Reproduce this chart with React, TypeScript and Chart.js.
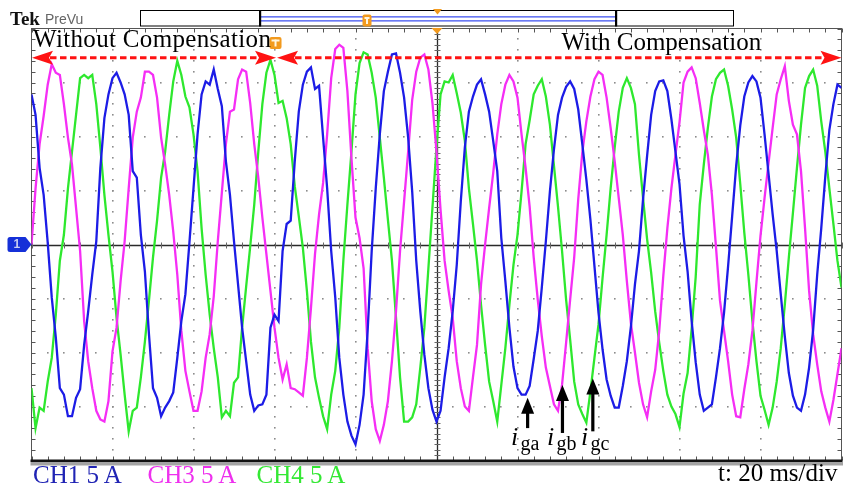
import React, { useEffect, useRef } from "react";
import { Chart, registerables } from "chart.js";

Chart.register(...registerables);

// Sample times (ms) across the 10 div x 20 ms/div screen
const timeMs = [
  0, 1, 2, 3, 4, 5, 6, 7, 8, 9, 10, 11, 12, 13, 14, 15, 16, 17, 18, 19,
  20, 21, 22, 23, 24, 25, 26, 27, 28, 29, 30, 31, 32, 33, 34, 35, 36, 37, 38, 39,
  40, 41, 42, 43, 44, 45, 46, 47, 48, 49, 50, 51, 52, 53, 54, 55, 56, 57, 58, 59,
  60, 61, 62, 63, 64, 65, 66, 67, 68, 69, 70, 71, 72, 73, 74, 75, 76, 77, 78, 79,
  80, 81, 82, 83, 84, 85, 86, 87, 88, 89, 90, 91, 92, 93, 94, 95, 96, 97, 98, 99,
  100, 101, 102, 103, 104, 105, 106, 107, 108, 109, 110, 111, 112, 113, 114, 115, 116, 117, 118, 119,
  120, 121, 122, 123, 124, 125, 126, 127, 128, 129, 130, 131, 132, 133, 134, 135, 136, 137, 138, 139,
  140, 141, 142, 143, 144, 145, 146, 147, 148, 149, 150, 151, 152, 153, 154, 155, 156, 157, 158, 159,
  160, 161, 162, 163, 164, 165, 166, 167, 168, 169, 170, 171, 172, 173, 174, 175, 176, 177, 178, 179,
  180, 181, 182, 183, 184, 185, 186, 187, 188, 189, 190, 191, 192, 193, 194, 195, 196, 197, 198, 199,
  200,
];

// CH1 (i_ga), amps
const ch1Amps = [
  13.9, 12.0, 7.1, 4.6, 0.2, -4.9, -8.6, -13.3, -13.9, -15.9,
  -15.9, -14.2, -13.4, -9.3, -6.2, -2.8, 0.3, 7.1, 11.7, 13.9,
  15.4, 15.9, 15.0, 13.9, 12.0, 6.8, 6.2, 0.9, -2.5, -8.3,
  -13.3, -14.2, -15.9, -15.1, -14.5, -13.7, -10.5, -7.1, -4.6, 0.2,
  5.2, 10.2, 13.9, 15.1, 14.8, 16.2, 14.4, 12.8, 7.7, 4.6,
  0.3, -3.7, -7.7, -10.8, -13.9, -15.4, -14.9, -14.8, -13.9, -7.7,
  -6.5, -7.1, -0.6, 1.9, 2.2, 7.7, 12.3, 14.8, 16.0, 16.4,
  14.4, 14.7, 9.9, 5.2, -0.6, -4.9, -10.5, -13.9, -16.4, -17.7,
  -18.5, -16.7, -13.9, -8.0, -0.6, 5.2, 10.2, 14.2, 16.0, 17.6,
  17.7, 15.9, 13.6, 9.9, 4.9, -1.5, -6.2, -10.2, -13.3, -15.3,
  -16.4, -15.4, -12.3, -9.6, -6.2, -1.9, 4.0, 9.0, 12.3, 13.7,
  14.8, 15.3, 13.9, 12.3, 9.6, 6.8, 0.6, -3.4, -7.7, -11.3,
  -13.3, -13.9, -13.9, -13.1, -10.6, -8.0, -4.0, 0.3, 4.9, 8.8,
  12.0, 13.6, 14.6, 15.1, 14.4, 12.5, 9.3, 6.0, 2.3, -2.0,
  -6.3, -9.7, -12.5, -14.0, -15.1, -15.1, -13.1, -10.8, -7.6, -3.7,
  -0.6, 4.2, 8.2, 12.0, 14.2, 15.1, 15.2, 14.2, 11.6, 8.6,
  5.6, 0.8, -2.5, -7.1, -10.9, -13.9, -15.4, -15.1, -14.8, -12.3,
  -9.6, -6.3, -2.0, 2.6, 7.3, 11.0, 13.7, 15.0, 15.6, 15.1,
  13.6, 10.2, 6.5, 2.8, -0.6, -4.6, -8.5, -11.9, -14.0, -15.1,
  -15.4, -13.9, -11.4, -7.9, -2.8, 1.5, 6.3, 10.6, 13.0, 14.8,
  14.5,
];

// CH3 (i_gb), amps
const ch3Amps = [
  0.0, 5.2, 9.3, 11.9, 14.8, 16.7, 15.9, 15.7, 13.0, 9.9,
  7.4, 3.4, -0.6, -7.1, -10.8, -13.3, -15.4, -16.2, -16.4, -14.5,
  -9.9, -7.7, -3.4, 0.3, 5.2, 9.9, 12.3, 13.6, 16.0, 16.0,
  15.7, 13.6, 9.9, 7.4, 4.6, 1.2, -2.8, -8.0, -11.7, -13.6,
  -15.4, -15.4, -13.6, -10.5, -8.3, -4.8, 0.3, 4.8, 9.3, 12.3,
  12.5, 15.3, 16.2, 16.0, 13.1, 9.3, 6.2, 2.5, -0.9, -4.3,
  -7.7, -10.5, -12.5, -11.1, -13.3, -13.4, -13.7, -14.0, -10.5, -5.9,
  -0.9, 2.8, 5.7, 10.2, 15.4, 18.1, 18.5, 18.2, 14.2, 8.0,
  2.5, 0.6, -2.2, -9.6, -14.5, -17.1, -18.2, -16.7, -14.5, -10.8,
  -6.2, -0.6, 4.0, 8.6, 13.4, 16.0, 17.3, 17.6, 16.2, 13.1,
  8.6, 3.2, -1.5, -4.3, -6.8, -10.8, -13.3, -15.0, -15.4, -12.3,
  -9.3, -3.7, 0.0, 3.4, 6.6, 10.2, 13.0, 14.8, 15.7, 15.1,
  13.6, 10.2, 7.1, 3.5, -1.2, -5.1, -8.5, -11.4, -13.1, -14.8,
  -15.4, -13.0, -9.1, -5.1, -1.2, 4.2, 8.5, 11.4, 13.7, 15.3,
  16.0, 15.7, 13.6, 10.8, 7.7, 4.3, 0.9, -3.4, -7.3, -10.0,
  -12.8, -14.8, -16.0, -13.6, -11.6, -8.0, -2.9, 1.5, 5.2, 8.3,
  11.3, 15.0, 16.0, 16.4, 15.4, 13.1, 10.6, 8.3, 4.6, -0.2,
  -5.2, -8.0, -10.8, -13.9, -15.9, -16.0, -13.4, -11.1, -8.0, -3.5,
  0.8, 4.3, 7.6, 10.8, 13.9, 15.3, 16.5, 13.3, 11.1, 10.2,
  6.8, 1.5, -4.3, -8.3, -11.1, -13.6, -15.1, -16.4, -14.4, -12.0,
  -9.6,
];

// CH4 (i_gc), amps
const ch4Amps = [
  -13.3, -17.0, -15.1, -15.4, -12.7, -10.5, -6.5, -1.5, 0.9, 5.2,
  8.6, 12.0, 15.4, 15.7, 15.4, 15.7, 13.0, 9.0, 4.6, 0.9,
  -2.5, -6.8, -10.2, -13.9, -17.3, -15.4, -15.1, -12.3, -9.0, -5.2,
  -1.2, 2.2, 6.2, 8.6, 12.0, 15.1, 17.0, 15.7, 13.7, 12.7,
  10.2, 6.8, 1.5, -2.8, -6.5, -9.6, -12.3, -16.0, -15.4, -15.9,
  -12.8, -12.3, -7.7, -3.9, -0.2, 3.7, 8.6, 13.0, 15.9, 17.1,
  15.7, 13.1, 13.3, 11.7, 9.3, 5.4, 2.6, -0.3, -4.3, -9.0,
  -12.3, -14.2, -15.9, -17.1, -13.9, -11.7, -7.7, -1.5, 3.7, 8.6,
  13.9, 16.8, 17.8, 17.6, 15.9, 13.6, 9.9, 6.2, 2.3, -1.5,
  -6.8, -12.3, -16.4, -16.4, -16.0, -14.8, -11.4, -7.7, -2.2, 3.4,
  9.0, 13.9, 15.1, 15.0, 15.7, 14.0, 12.2, 9.6, 5.2, 1.9,
  -1.5, -5.6, -9.3, -12.7, -14.5, -16.4, -13.0, -9.6, -5.6, -1.9,
  0.9, 4.9, 9.3, 11.5, 13.9, 14.7, 15.3, 13.7, 11.1, 7.3,
  3.5, -0.6, -5.1, -8.8, -12.7, -14.8, -15.7, -16.5, -13.6, -10.5,
  -7.4, -3.1, 0.9, 5.2, 9.0, 12.3, 14.5, 15.4, 14.5, 13.0,
  8.3, 4.3, 0.5, -2.6, -6.2, -9.1, -11.7, -13.9, -15.0, -15.7,
  -16.9, -13.8, -11.9, -7.8, -3.0, 3.7, 7.4, 10.8, 13.7, 15.3,
  15.9, 16.2, 14.7, 12.5, 9.9, 5.6, 1.1, -2.8, -7.1, -10.8,
  -14.0, -15.3, -16.7, -15.1, -12.7, -9.6, -5.6, -1.2, 2.9, 7.1,
  11.1, 14.5, 15.6, 16.2, 14.7, 11.4, 8.6, 5.2, 1.9, -1.5,
  -4.0,
];

const channelLabels = ["CH1 5 A", "CH3 5 A", "CH4 5 A"];
const channelColors = ["#1c1ce6", "#f52ef5", "#2ee82e"];
const channelTextColors = ["#2024b4", "#ee30ee", "#34e834"];

// Annotation values (data units)
const switchTimeMs = 60.5;
const arrowLevelAmps = 17.3;
const pointerTimesMs = [122.5, 131.1, 138.6];
const pointerTipAmps = [-14.2, -13.0, -12.4];
const pointerBaseAmps = [-17.0, -17.45, -17.3];
const pointerLabels = ["ga", "gb", "gc"];

const X_MIN = 0, X_MAX = 200, X_DIV = 20;
const Y_MIN = -20, Y_MAX = 20, Y_DIV = 5;

const ORANGE = "#f29a1e";

function redDoubleArrow(ctx: any, x1: number, x2: number, y: number) {
  ctx.strokeStyle = "#ff1212";
  ctx.fillStyle = "#ff1212";
  ctx.lineWidth = 3;
  ctx.setLineDash([6.5, 3.5]);
  ctx.beginPath();
  ctx.moveTo(x1 + 18, y);
  ctx.lineTo(x2 - 18, y);
  ctx.stroke();
  ctx.setLineDash([]);
  ctx.beginPath();
  ctx.moveTo(x1, y);
  ctx.lineTo(x1 + 21, y - 7);
  ctx.lineTo(x1 + 17, y);
  ctx.lineTo(x1 + 21, y + 7);
  ctx.closePath();
  ctx.fill();
  ctx.beginPath();
  ctx.moveTo(x2, y);
  ctx.lineTo(x2 - 21, y - 7);
  ctx.lineTo(x2 - 17, y);
  ctx.lineTo(x2 - 21, y + 7);
  ctx.closePath();
  ctx.fill();
}

function tMarker(ctx: any, cx: number, cy: number, w: number, h: number) {
  ctx.fillStyle = ORANGE;
  ctx.beginPath();
  ctx.roundRect(cx - w / 2, cy - h / 2, w, h, 2);
  ctx.fill();
  ctx.fillStyle = "#fff6e0";
  ctx.fillRect(cx - w / 2 + 2, cy - h / 2 + 2.5, w - 4, 2);
  ctx.fillRect(cx - 1, cy - h / 2 + 2.5, 2, h - 5);
}

const scopePlugin = {
  id: "scopeGraticule",
  beforeDatasetsDraw(chart: any) {
    const { ctx, chartArea: a, scales } = chart;
    const xs = scales.x, ys = scales.y;
    const minorX = X_DIV / 5, minorY = Y_DIV / 5;
    ctx.save();
    ctx.fillStyle = "#8c8c8c";
    for (let t = X_MIN + X_DIV; t < X_MAX; t += X_DIV) {
      if (t === 100) continue;
      const px = Math.round(xs.getPixelForValue(t));
      for (let v = Y_MIN + minorY; v < Y_MAX; v += minorY) {
        const py = Math.round(ys.getPixelForValue(v));
        ctx.fillRect(px - 1, py - 1, 1.6, 1.6);
      }
    }
    for (let v = Y_MIN + Y_DIV; v < Y_MAX; v += Y_DIV) {
      if (v === 0) continue;
      const py = Math.round(ys.getPixelForValue(v));
      for (let t = X_MIN + minorX; t < X_MAX; t += minorX) {
        const px = Math.round(xs.getPixelForValue(t));
        ctx.fillRect(px - 1, py - 1, 1.6, 1.6);
      }
    }
    // frame
    ctx.strokeStyle = "#555";
    ctx.lineWidth = 1;
    ctx.strokeRect(a.left, a.top, a.right - a.left, a.bottom - a.top);
    ctx.beginPath();
    for (let t = X_MIN; t <= X_MAX; t += minorX) {
      const px = Math.round(xs.getPixelForValue(t)) + 0.5;
      ctx.moveTo(px, a.top);
      ctx.lineTo(px, a.top + 4);
      ctx.moveTo(px, a.bottom);
      ctx.lineTo(px, a.bottom - 4);
    }
    for (let v = Y_MIN; v <= Y_MAX; v += minorY) {
      const py = Math.round(ys.getPixelForValue(v)) + 0.5;
      ctx.moveTo(a.left, py);
      ctx.lineTo(a.left + 4, py);
      ctx.moveTo(a.right, py);
      ctx.lineTo(a.right - 4, py);
    }
    ctx.stroke();
    // center cross
    const cx = Math.round(xs.getPixelForValue(100)) + 0.5;
    const cy = Math.round(ys.getPixelForValue(0)) + 0.5;
    ctx.strokeStyle = "#2a2a2a";
    ctx.lineWidth = 1.3;
    ctx.beginPath();
    ctx.moveTo(a.left, cy);
    ctx.lineTo(a.right, cy);
    ctx.moveTo(cx, a.top);
    ctx.lineTo(cx, a.bottom);
    ctx.stroke();
    ctx.lineWidth = 1;
    ctx.strokeStyle = "#666";
    ctx.beginPath();
    for (let t = X_MIN; t <= X_MAX; t += minorX) {
      const px = Math.round(xs.getPixelForValue(t)) + 0.5;
      ctx.moveTo(px, cy - 3);
      ctx.lineTo(px, cy + 3);
    }
    for (let v = Y_MIN; v <= Y_MAX; v += minorY / 2) {
      const py = Math.round(ys.getPixelForValue(v)) + 0.5;
      ctx.moveTo(cx - 3, py);
      ctx.lineTo(cx + 3, py);
    }
    ctx.stroke();
    // bottom bezel
    ctx.fillStyle = "#111";
    ctx.fillRect(a.left - 1, a.bottom - 1, a.right - a.left + 2, 2.5);
    ctx.fillStyle = "#a3a3a3";
    ctx.fillRect(a.left - 1, a.bottom + 1.5, a.right - a.left + 3, 3.5);
    ctx.restore();
  },
  afterDatasetsDraw(chart: any) {
    const { ctx, chartArea: a, scales } = chart;
    const xs = scales.x, ys = scales.y;
    ctx.save();
    const ya = ys.getPixelForValue(arrowLevelAmps);
    const xl = xs.getPixelForValue(X_MIN);
    const xm = xs.getPixelForValue(switchTimeMs);
    const xr = xs.getPixelForValue(X_MAX);
    redDoubleArrow(ctx, xl + 0.5, xm - 0.5, ya);
    redDoubleArrow(ctx, xm + 0.5, xr, ya);

    // black pointer arrows
    ctx.fillStyle = "#000";
    for (let i = 0; i < pointerTimesMs.length; i++) {
      const px = xs.getPixelForValue(pointerTimesMs[i]);
      const tip = ys.getPixelForValue(pointerTipAmps[i]);
      const base = ys.getPixelForValue(pointerBaseAmps[i]);
      ctx.fillRect(px - 1.6, tip + 12, 3.2, base - tip - 12);
      ctx.beginPath();
      ctx.moveTo(px, tip);
      ctx.lineTo(px - 6.5, tip + 16);
      ctx.lineTo(px + 6.5, tip + 16);
      ctx.closePath();
      ctx.fill();
    }

    // trigger marker at switching instant
    tMarker(ctx, xm - 1, a.top + 14.5, 12, 12);

    // trigger position triangle at top of screen
    const cxp = xs.getPixelForValue(100) + 0.5;
    ctx.fillStyle = ORANGE;
    ctx.beginPath();
    ctx.moveTo(cxp - 5.5, a.top - 0.5);
    ctx.lineTo(cxp + 5.5, a.top - 0.5);
    ctx.lineTo(cxp, a.top + 5.5);
    ctx.closePath();
    ctx.fill();

    // channel 1 ground marker
    const gy = ys.getPixelForValue(0);
    ctx.fillStyle = "#1530d8";
    ctx.beginPath();
    ctx.moveTo(a.left, gy);
    ctx.lineTo(a.left - 6, gy - 7.5);
    ctx.lineTo(10, gy - 7.5);
    ctx.quadraticCurveTo(7.5, gy - 7.5, 7.5, gy - 5);
    ctx.lineTo(7.5, gy + 5);
    ctx.quadraticCurveTo(7.5, gy + 7.5, 10, gy + 7.5);
    ctx.lineTo(a.left - 6, gy + 7.5);
    ctx.closePath();
    ctx.fill();
    ctx.fillStyle = "#c9cff2";
    ctx.font = "bold 12px 'Liberation Sans', sans-serif";
    ctx.textBaseline = "middle";
    ctx.fillText("1", 13.5, gy + 0.5);
    ctx.restore();
  },
  afterDraw(chart: any) {
    const { ctx } = chart;
    ctx.save();
    // record overview bar
    ctx.strokeStyle = "#000";
    ctx.lineWidth = 1;
    ctx.strokeRect(140.5, 10.5, 593, 15.5);
    ctx.strokeStyle = "#3b4ff0";
    ctx.lineWidth = 1.3;
    ctx.beginPath();
    ctx.moveTo(261, 16.8);
    ctx.lineTo(615, 16.8);
    ctx.moveTo(261, 20.8);
    ctx.lineTo(615, 20.8);
    ctx.stroke();
    ctx.fillStyle = "#000";
    ctx.fillRect(259, 10, 2.2, 16.5);
    ctx.fillRect(615, 10, 2.2, 16.5);
    tMarker(ctx, 367, 20.5, 9, 12);
    ctx.fillStyle = ORANGE;
    ctx.beginPath();
    ctx.moveTo(433, 9);
    ctx.lineTo(442, 9);
    ctx.lineTo(437.5, 14.5);
    ctx.closePath();
    ctx.fill();
    ctx.restore();
  },
};

const serif = '"Liberation Serif", "Times New Roman", serif';

function txt(left: number, top: number, size: number, color: string, extra: any = {}) {
  return {
    position: "absolute" as const,
    left,
    top,
    fontSize: size,
    lineHeight: `${size}px`,
    color,
    fontFamily: serif,
    whiteSpace: "nowrap" as const,
    margin: 0,
    ...extra,
  };
}

export default function App() {
  const ref = useRef<HTMLCanvasElement | null>(null);

  useEffect(() => {
    if (!ref.current) return;
    const series = [ch1Amps, ch3Amps, ch4Amps];
    const chart = new Chart(ref.current, {
      type: "line",
      data: {
        datasets: series.map((vals, i) => ({
          label: channelLabels[i],
          data: timeMs.map((t, k) => ({ x: t, y: vals[k] })),
          borderColor: channelColors[i],
          borderWidth: 2.3,
          pointRadius: 0,
          tension: 0,
          fill: false,
        })),
      },
      options: {
        animation: false,
        responsive: false,
        devicePixelRatio: 1,
        events: [],
        layout: { padding: { left: 31.5, right: 1.5, top: 28.5, bottom: 28.5 } },
        plugins: { legend: { display: false }, tooltip: { enabled: false } },
        scales: {
          x: { type: "linear", min: X_MIN, max: X_MAX, display: false },
          y: { type: "linear", min: Y_MIN, max: Y_MAX, display: false },
        },
      },
      plugins: [scopePlugin],
    } as any);
    return () => chart.destroy();
  }, []);

  const pointerTextLeft = [511, 547, 581];

  return (
    <div style={{ position: "absolute", left: 0, top: 0, width: 843, height: 489, background: "#fff", overflow: "hidden" }}>
      <canvas ref={ref} width={843} height={489} style={{ position: "absolute", left: 0, top: 0, width: 843, height: 489 }} />
      <div style={txt(10, 9, 19, "#111", { fontWeight: "bold" })}>Tek</div>
      <div style={txt(45, 12, 14, "#666", { fontFamily: '"Liberation Sans", Arial, sans-serif' })}>PreVu</div>
      <div style={txt(33, 26, 25, "#000", { letterSpacing: "0.33px" })}>Without Compensation</div>
      <div style={txt(561.5, 29, 25, "#000")}>With Compensation</div>
      <div style={txt(33, 461.6, 25, channelTextColors[0])}>{channelLabels[0]}</div>
      <div style={txt(147.5, 461.6, 25, channelTextColors[1])}>{channelLabels[1]}</div>
      <div style={txt(256.5, 461.6, 25, channelTextColors[2])}>{channelLabels[2]}</div>
      <div style={txt(718, 459.6, 25, "#000")}>t: 20 ms/div</div>
      {pointerLabels.map((lab, i) => (
        <React.Fragment key={lab}>
          <div style={txt(pointerTextLeft[i], 424, 26, "#000", { fontStyle: "italic" })}>i</div>
          <div style={txt(pointerTextLeft[i] + 9.5, 433.3, 20, "#000")}>{lab}</div>
        </React.Fragment>
      ))}
    </div>
  );
}
